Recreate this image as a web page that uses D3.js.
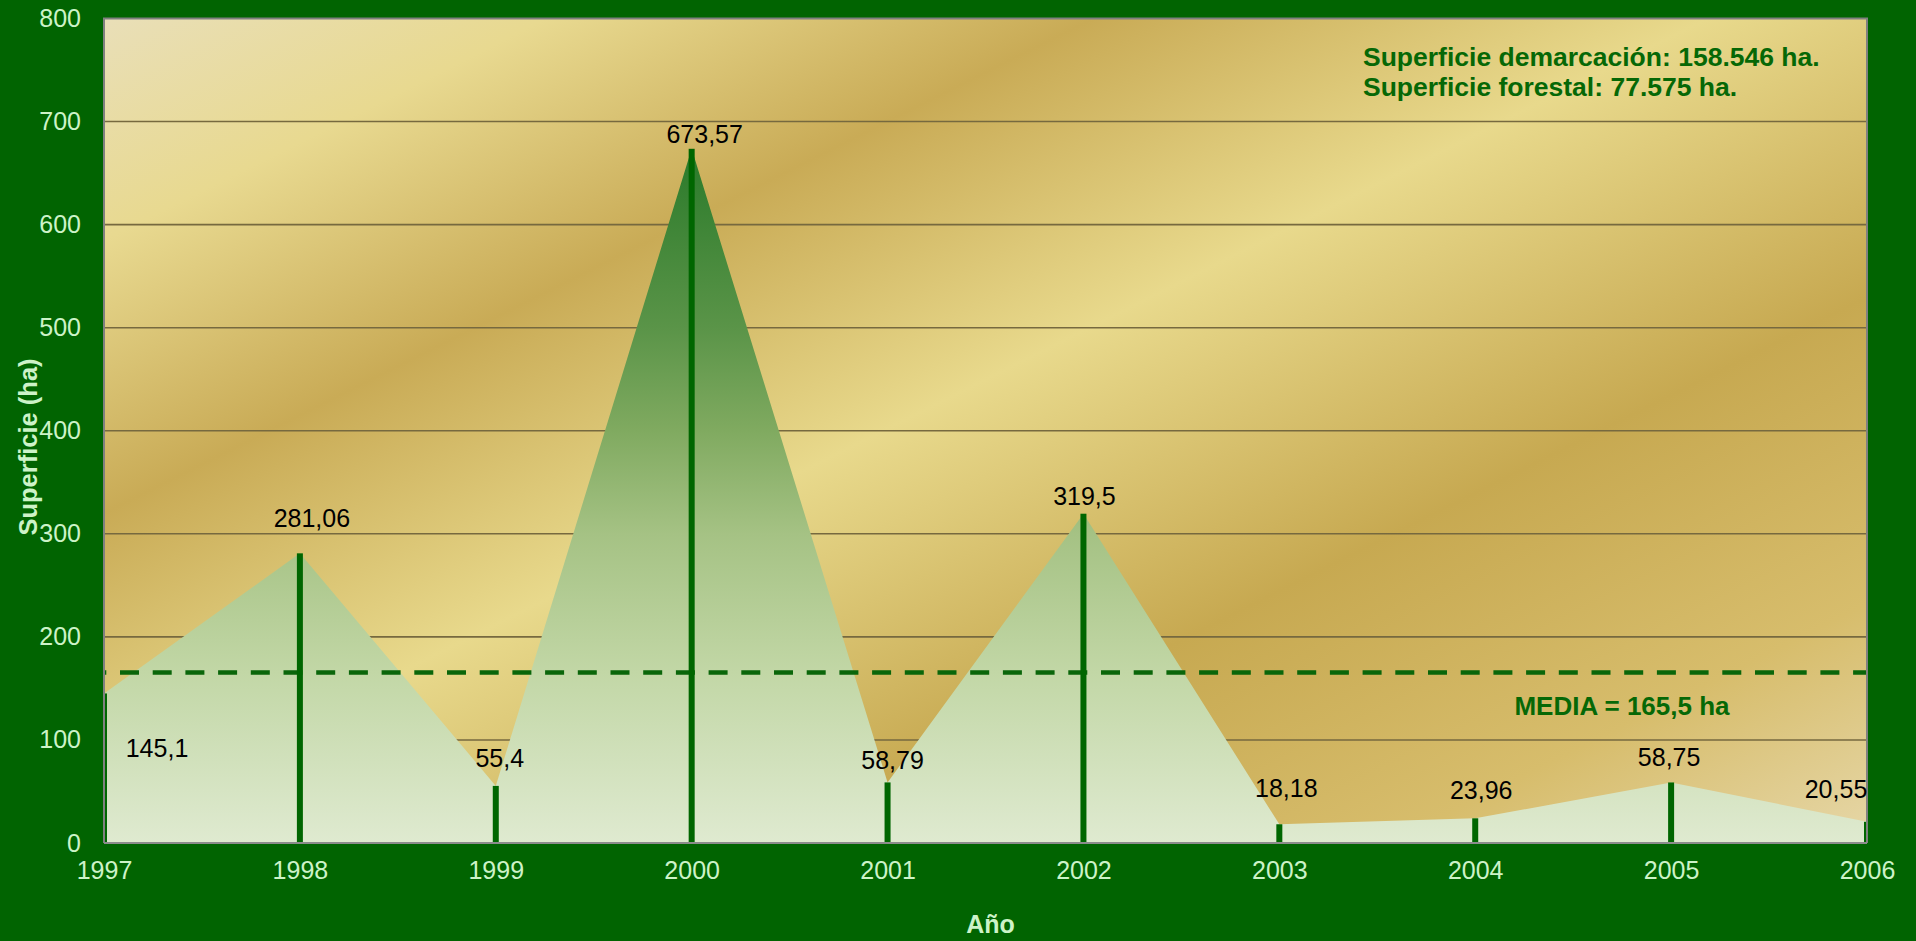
<!DOCTYPE html>
<html>
<head>
<meta charset="utf-8">
<script src="https://cdn.jsdelivr.net/npm/d3@7"></script>
<style>
html,body{margin:0;padding:0;background:#016401;overflow:hidden;}
svg{display:block;}
text{font-family:"Liberation Sans",Arial,sans-serif;}
</style>
</head>
<body>
<svg id="chart" width="1916" height="941"></svg>
<script>
// ---- data ----
const years = [1997, 1998, 1999, 2000, 2001, 2002, 2003, 2004, 2005, 2006];
const surface = [145.1, 281.06, 55.4, 673.57, 58.79, 319.5, 18.18, 23.96, 58.75, 20.55];
const valueLabels = ["145,1", "281,06", "55,4", "673,57", "58,79", "319,5", "18,18", "23,96", "58,75", "20,55"];
const yTicks = [0, 100, 200, 300, 400, 500, 600, 700, 800];
const meanValue = 165.5;
const meanLabel = "MEDIA = 165,5 ha";
const notes = ["Superficie demarcación: 158.546 ha.", "Superficie forestal: 77.575 ha."];
const xTitle = "Año";
const yTitle = "Superficie (ha)";

// ---- layout ----
const W = 1916, H = 941;
const plot = {left: 104, right: 1867, top: 18.5, bottom: 843};
// manual label nudges (pixels) relative to the data point, as placed in the original
const labelNudge = [[53, 64], [12, -26], [4, -19], [13, -5.5], [5, -13], [1, -8.5], [7, -27], [6, -19], [-2, -16], [-31, -24]];

const svg = d3.select("#chart");
const x = d3.scaleLinear().domain([d3.min(years), d3.max(years)]).range([plot.left, plot.right]);
const y = d3.scaleLinear().domain([0, 800]).range([plot.bottom, plot.top]);

const defs = svg.append("defs");

// background gradient (diagonal golden bands)
const bgLen = ((plot.right - plot.left) + 2 * (plot.bottom - plot.top)) / Math.sqrt(5);
const bg = defs.append("linearGradient").attr("id", "bg")
  .attr("gradientUnits", "userSpaceOnUse")
  .attr("x1", plot.left).attr("y1", plot.top)
  .attr("x2", plot.left + bgLen / Math.sqrt(5)).attr("y2", plot.top + 2 * bgLen / Math.sqrt(5));
[[0, "#e9dfb8"], [0.13, "#e8d990"], [0.29, "#c9ab56"], [0.47, "#e8d98c"], [0.68, "#c7a951"], [0.86, "#d7bd6c"], [1, "#e6d7a8"]]
  .forEach(([o, c]) => bg.append("stop").attr("offset", o).attr("stop-color", c));

// area gradient (vertical green)
const ag = defs.append("linearGradient").attr("id", "areaGrad")
  .attr("gradientUnits", "userSpaceOnUse")
  .attr("x1", 0).attr("x2", 0).attr("y1", y(673.57)).attr("y2", y(0));
const areaStops = [[673.57, "#2a7a2a"], [500, "#5a9448"], [400, "#80aa60"], [300, "#a5c284"], [165, "#c2d7a6"], [0, "#dfead0"]];
const aTop = y(673.57), aBot = y(0);
areaStops.forEach(([v, c]) => ag.append("stop").attr("offset", (y(v) - aTop) / (aBot - aTop)).attr("stop-color", c));

defs.append("clipPath").attr("id", "clip").append("rect")
  .attr("x", plot.left).attr("y", plot.top)
  .attr("width", plot.right - plot.left).attr("height", plot.bottom - plot.top);

// plot background
svg.append("rect")
  .attr("x", plot.left).attr("y", plot.top)
  .attr("width", plot.right - plot.left).attr("height", plot.bottom - plot.top)
  .attr("fill", "url(#bg)");

// gridlines
svg.append("g").selectAll("line").data(yTicks.filter(t => t > 0 && t < 800)).join("line")
  .attr("x1", plot.left).attr("x2", plot.right)
  .attr("y1", d => y(d)).attr("y2", d => y(d))
  .attr("stroke", "#76693f").attr("stroke-width", 1.6);

const g = svg.append("g").attr("clip-path", "url(#clip)");

// area
const pts = years.map((yr, i) => ({yr, v: surface[i]}));
g.append("path").datum(pts)
  .attr("d", d3.area().x(d => x(d.yr)).y0(y(0)).y1(d => y(d.v)))
  .attr("fill", "url(#areaGrad)");

// mean dashed line
g.append("line")
  .attr("x1", x(years[0])).attr("x2", x(years[years.length - 1]))
  .attr("y1", y(meanValue)).attr("y2", y(meanValue))
  .attr("stroke", "#0a660a").attr("stroke-width", 4.5)
  .attr("stroke-dasharray", "19,13.7").attr("stroke-dashoffset", 16.7);

// bars
g.selectAll("rect.bar").data(pts).join("rect").attr("class", "bar")
  .attr("x", d => x(d.yr) - 3).attr("width", 6)
  .attr("y", d => y(d.v)).attr("height", d => y(0) - y(d.v))
  .attr("fill", "#006600");

// border
svg.append("path")
  .attr("d", `M${plot.left},${plot.bottom}V${plot.top}H${plot.right}V${plot.bottom}`)
  .attr("fill", "none").attr("stroke", "#808080").attr("stroke-width", 2);
svg.append("line")
  .attr("x1", plot.left).attr("x2", plot.right).attr("y1", plot.bottom).attr("y2", plot.bottom)
  .attr("stroke", "#8c8c8c").attr("stroke-width", 2);

// axes (text only)
const yAxis = d3.axisLeft(y).tickValues(yTicks).tickSize(0).tickPadding(23).tickFormat(d3.format("d"));
const ya = svg.append("g").attr("transform", `translate(${plot.left},0)`).call(yAxis);
ya.select(".domain").remove();
ya.selectAll("text").attr("fill", "#cdf3c8").attr("font-size", 25)
  .attr("font-family", "'Liberation Sans',Arial,sans-serif");

const xAxis = d3.axisBottom(x).tickValues(years).tickSize(0).tickPadding(18).tickFormat(d3.format("d"));
const xa = svg.append("g").attr("transform", `translate(0,${plot.bottom})`).call(xAxis);
xa.select(".domain").remove();
xa.selectAll("text").attr("fill", "#cdf3c8").attr("font-size", 25)
  .attr("font-family", "'Liberation Sans',Arial,sans-serif");

// data labels
svg.append("g").selectAll("text").data(pts).join("text")
  .attr("x", (d, i) => x(d.yr) + labelNudge[i][0])
  .attr("y", (d, i) => y(d.v) + labelNudge[i][1])
  .attr("text-anchor", "middle").attr("font-size", 25).attr("fill", "#000")
  .text((d, i) => valueLabels[i]);

// mean label
svg.append("text")
  .attr("x", 1622).attr("y", 715).attr("text-anchor", "middle")
  .attr("font-size", 26).attr("font-weight", "bold").attr("fill", "#066806")
  .text(meanLabel);

// notes
svg.append("g").selectAll("text").data(notes).join("text")
  .attr("x", 1363).attr("y", (d, i) => 66 + i * 29.5)
  .attr("font-size", 26.5).attr("font-weight", "bold").attr("fill", "#066806")
  .text(d => d);

// axis titles
svg.append("text")
  .attr("x", (plot.left + plot.right) / 2 + 5).attr("y", 933)
  .attr("text-anchor", "middle").attr("font-size", 25).attr("font-weight", "bold")
  .attr("fill", "#cdf3c8").text(xTitle);

svg.append("text")
  .attr("transform", `translate(37,447) rotate(-90)`)
  .attr("text-anchor", "middle").attr("font-size", 25.5).attr("font-weight", "bold")
  .attr("fill", "#cdf3c8").text(yTitle);
</script>
</body>
</html>
